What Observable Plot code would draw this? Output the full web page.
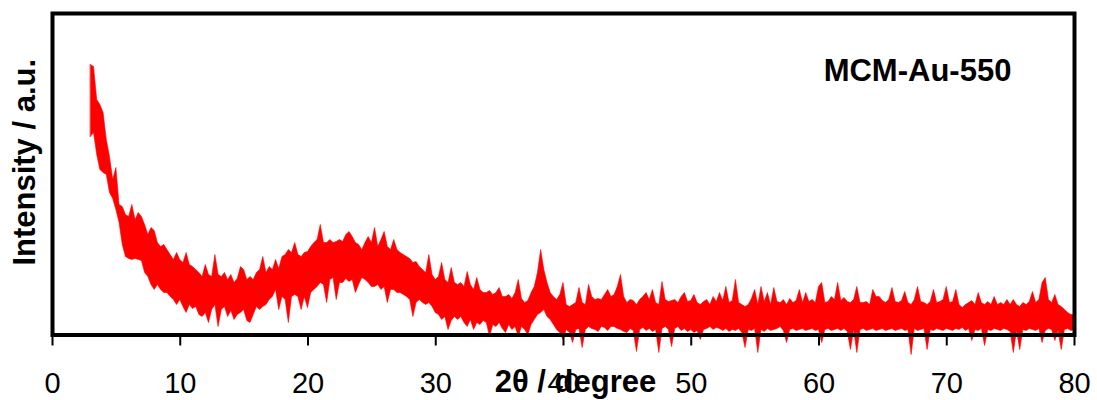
<!DOCTYPE html>
<html>
<head>
<meta charset="utf-8">
<script src="https://cdn.jsdelivr.net/npm/d3@7"></script>
<script src="https://cdn.jsdelivr.net/npm/@observablehq/plot@0.6"></script>
<style>
  html, body { margin: 0; padding: 0; background: #fff; }
  #chart svg { display: block; }
</style>
</head>
<body>
<div id="chart"></div>
<script>
// XRD scan of MCM-Au-550: 2θ from 3° to 80° in 0.25° steps.
// The noisy trace is drawn as a band between its lower and upper envelopes.
const scanStart = 3;
const scanStep = 0.25;

// upper envelope of the trace (a.u.)
const upper = [
  270, 268, 235, 230, 222, 195, 178, 155, 167, 130, 128, 120, 118, 130, 115, 122, 118, 110, 100, 107, 104, 92, 88, 90, 85, 80, 75, 82, 75,
  72, 82, 70, 68, 65, 62, 58, 70, 60, 58, 80, 60, 58, 62, 55, 60, 52, 56, 68, 65, 55, 58, 55, 62, 65, 78, 62, 68,
  65, 75, 66, 78, 80, 85, 82, 92, 80, 78, 82, 83, 88, 92, 95, 110, 92, 92, 95, 92, 93, 95, 93, 100, 103, 98, 92, 90,
  85, 92, 98, 92, 107, 88, 95, 103, 88, 85, 95, 85, 82, 80, 78, 76, 72, 73, 68, 65, 62, 80, 60, 55, 58, 72, 55, 52,
  67, 52, 50, 52, 48, 63, 50, 45, 57, 45, 42, 42, 44, 40, 42, 47, 38, 38, 40, 36, 42, 55, 36, 32, 34, 42, 48, 62,
  85, 65, 52, 42, 38, 35, 40, 52, 30, 28, 30, 32, 47, 32, 30, 50, 38, 35, 36, 35, 40, 45, 38, 40, 48, 60, 38, 32,
  35, 34, 30, 35, 38, 42, 35, 45, 32, 30, 53, 35, 33, 34, 35, 32, 38, 42, 33, 34, 40, 32, 30, 33, 35, 30, 38, 33,
  42, 34, 48, 32, 34, 55, 32, 30, 28, 30, 36, 45, 30, 48, 33, 42, 30, 47, 33, 32, 35, 30, 36, 32, 34, 45, 32, 42,
  33, 35, 32, 48, 52, 32, 33, 38, 35, 52, 34, 37, 33, 32, 35, 48, 32, 32, 33, 30, 45, 38, 38, 34, 32, 35, 47, 33,
  32, 34, 43, 32, 30, 35, 48, 33, 32, 30, 33, 45, 32, 33, 35, 48, 32, 33, 45, 30, 27, 30, 32, 34, 30, 42, 32, 30,
  33, 30, 38, 30, 32, 30, 35, 30, 35, 30, 28, 32, 30, 33, 43, 32, 35, 52, 57, 35, 32, 40, 30, 28, 25, 22, 20, 20
];

// lower envelope of the trace (a.u.)
const lower = [
  198, 202, 180, 165, 162, 160, 142, 136, 125, 112, 90, 78, 76, 75, 76, 75, 74, 62, 58, 50, 45, 50, 45, 42, 42, 38, 35, 30, 35,
  28, 22, 30, 26, 28, 20, 18, 22, 12, 25, 30, 8, 25, 28, 18, 24, 15, 20, 22, 25, 14, 12, 20, 28, 25, 28, 30, 35,
  38, 45, 25, 38, 35, 12, 38, 40, 38, 25, 38, 27, 42, 45, 48, 52, 50, 32, 55, 57, 35, 52, 52, 56, 53, 55, 42, 50,
  57, 55, 52, 48, 48, 50, 45, 48, 32, 45, 45, 42, 42, 40, 38, 35, 18, 32, 35, 32, 30, 32, 28, 22, 20, 15, 18, 5,
  14, 18, 15, 18, 12, 8, 15, 5, 12, 10, 14, 12, -2, 10, 8, 12, 6, 2, 10, 5, 8, -2, 8, 5, 0, 10, 15, 20,
  22, 25, 18, 15, 10, 5, 2, -5, 5, 2, -8, 5, 6, -13, 5, 8, 6, 5, 3, 8, 7, 4, 8, 8, 6, 5, 3, 2,
  6, 4, -17, 5, 7, 4, 6, 3, 5, -18, 6, 8, 5, -12, 6, 8, 4, 6, 3, 5, 2, 4, -5, 5, 6, 8, 5, 7,
  6, 4, 6, 3, 5, 4, 6, 2, -13, 5, 4, 6, -18, 5, 3, 6, 4, 5, 6, 8, 4, -8, 5, 6, 4, 5, 6, 4,
  5, 6, 4, 5, -8, 5, 6, 4, 5, 6, 4, 6, 3, -15, 5, -18, 5, 6, 4, 5, 6, 4, 5, 6, 4, 5, 6, 4,
  5, 6, 4, 5, -20, 6, 4, 5, 6, -15, 5, 4, 6, 5, 4, 6, 5, 4, 6, 5, 7, 4, 6, -6, 5, 4, 6, -11,
  5, 4, 6, 5, 4, 6, 5, 3, -18, 4, -15, 5, 4, 6, 5, 4, 6, -8, 4, 6, 5, -6, 4, -15, 5, 6, 4, 5
];

const xTicks = [0, 10, 20, 30, 40, 50, 60, 70, 80];
const xTitle = "2θ / degree";
const yTitle = "Intensity / a.u.";
const sampleName = "MCM-Au-550";

const scan = upper.map((hi, i) => ({angle: scanStart + i * scanStep, hi, lo: lower[i]}));

const font = "'Liberation Sans', Arial, Helvetica, sans-serif";

const chart = Plot.plot({
  width: 1097,
  height: 400,
  marginLeft: 52,
  marginRight: 23,
  marginTop: 13,
  marginBottom: 65.5,
  style: {fontFamily: font, color: "#000", background: "#fff", overflow: "visible"},
  x: {domain: [0, 80]},
  y: {domain: [0, 321.5], axis: null},
  marks: [
    Plot.areaY(scan, {x: "angle", y1: "lo", y2: "hi", fill: "#ff0000", stroke: "#ff0000", strokeWidth: 0.6}),
    Plot.frame({stroke: "#000", strokeWidth: 4}),
    Plot.axisX({ticks: xTicks, tickSize: 11, tickPadding: 26, fontSize: 29, strokeWidth: 2, label: null, tickFormat: d => String(d)}),
    Plot.text([xTitle], {frameAnchor: "bottom", text: d => d, dx: 12, dy: 47.5, lineAnchor: "middle", fontSize: 31, fontWeight: "bold", fill: "#000"}),
    Plot.text([yTitle], {frameAnchor: "left", text: d => d, rotate: -90, textAnchor: "middle", dx: -27, dy: -12, lineAnchor: "middle", fontSize: 31, fontWeight: "bold", fill: "#000"}),
    Plot.text([sampleName], {frameAnchor: "top-right", text: d => d, textAnchor: "middle", dx: -157, dy: 58, lineAnchor: "middle", fontSize: 31, fontWeight: "bold", fill: "#000"})
  ]
});

document.getElementById("chart").appendChild(chart);
</script>
</body>
</html>
